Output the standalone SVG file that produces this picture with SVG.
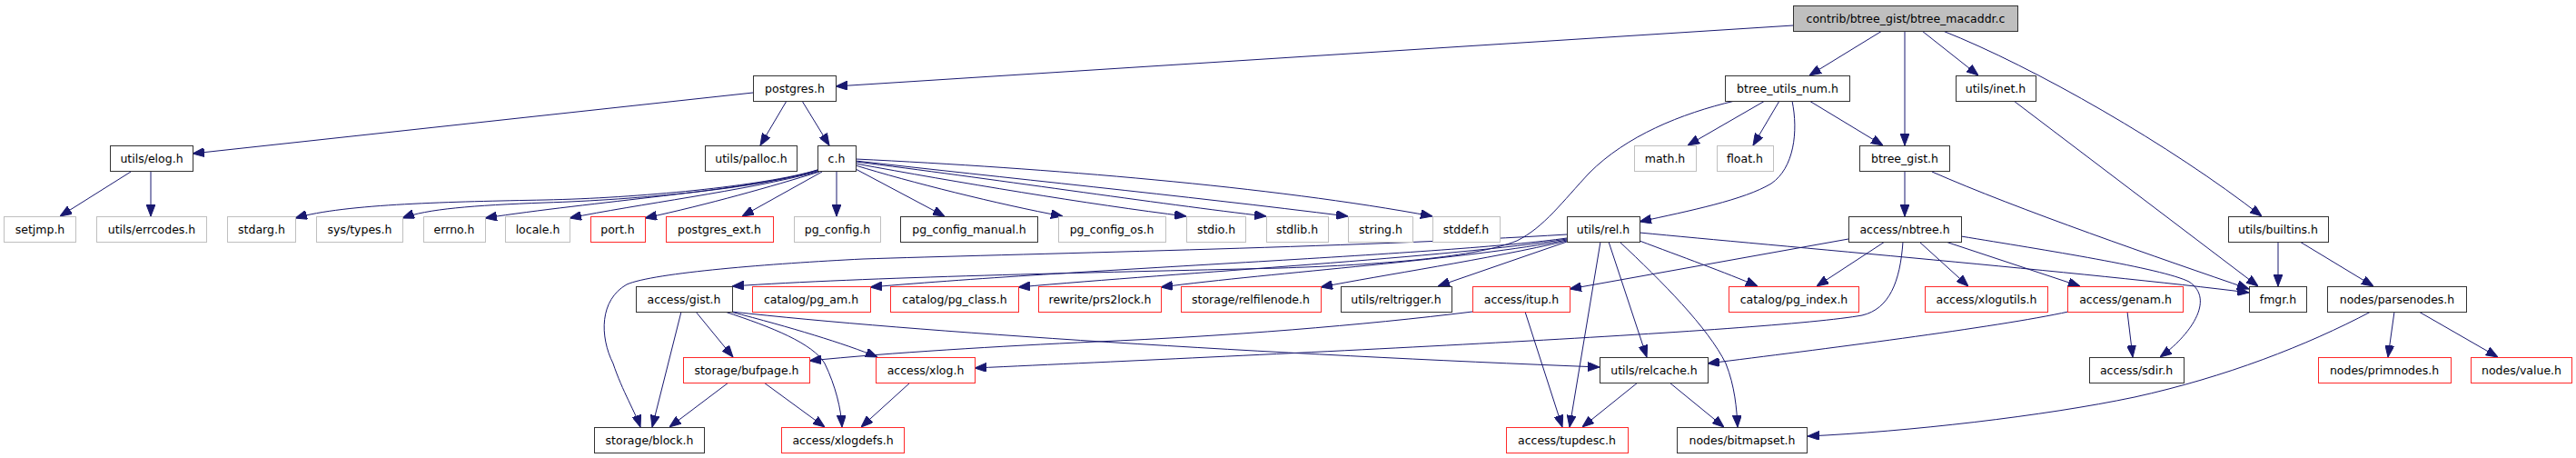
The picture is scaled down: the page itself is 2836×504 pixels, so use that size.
<svg xmlns="http://www.w3.org/2000/svg" width="2836" height="504" viewBox="0 0 2836 504">
<style>
.n rect{fill:#fff;stroke:#333;stroke-width:1}
.n.red rect{stroke:#ff2a2a}
.n.gray rect{stroke:#bfbfbf}
.n.root rect{fill:#bfbfbf}
.n text{font-family:"DejaVu Sans","Liberation Sans",sans-serif;font-size:12.5px;text-anchor:middle;fill:#000}
#edges path{fill:none;stroke:#191970;stroke-width:1;marker-end:url(#arr)}
</style>
<defs>
<marker id="arr" viewBox="0 0 13 10" refX="13" refY="5" markerWidth="13" markerHeight="10" markerUnits="userSpaceOnUse" orient="auto">
<path d="M0,0 L13,5 L0,10 z" fill="#191970" stroke="#191970" stroke-width="1"/>
</marker>
</defs>
<rect width="2836" height="504" fill="#fff"/>
<g id="edges">
<path d="M1974,28 L920,95"/>
<path d="M2072,34 L1992,83"/>
<path d="M2097,34 L2097,160"/>
<path d="M2116,34 L2178,83"/>
<path d="M2139,34 C2240,74 2390,160 2490,238"/>
<path d="M829,102 L212,169"/>
<path d="M866,111 L837,160"/>
<path d="M883,111 L913,160"/>
<path d="M144,189 L66,238"/>
<path d="M166,189 L166,238"/>
<path d="M900,187 C840,205 700,218 600,220 C500,222 380,224 325,240"/>
<path d="M900,187 C840,207 700,220 600,223 C520,226 470,230 443,240"/>
<path d="M900,188 C820,210 650,222 534,240"/>
<path d="M900,189 C820,210 700,225 627,240"/>
<path d="M902,189 C850,205 780,225 710,240"/>
<path d="M905,189 L817,238"/>
<path d="M921,189 L921,238"/>
<path d="M942,186 L1040,238"/>
<path d="M942,182 C1000,200 1100,225 1170,238"/>
<path d="M942,180 C1050,200 1200,225 1306,238"/>
<path d="M942,178 C1080,195 1280,225 1394,238"/>
<path d="M942,177 C1100,195 1300,215 1484,238"/>
<path d="M942,175 C1150,185 1400,205 1577,238"/>
<path d="M1943,111 L1858,160"/>
<path d="M1959,111 L1930,160"/>
<path d="M1992,111 L2073,160"/>
<path d="M1973,111 C1980,145 1975,185 1950,202 C1920,220 1860,232 1805,244"/>
<path d="M1910,111 C1850,125 1790,150 1750,190 C1720,222 1700,250 1670,265 C1620,285 1500,292 1410,295 C1200,300 950,305 806,315"/>
<path d="M2097,189 L2097,238"/>
<path d="M2127,189 C2220,230 2380,285 2476,318"/>
<path d="M2217,111 L2486,315"/>
<path d="M1725,258 C1500,272 1100,280 950,285 C850,290 720,300 690,313 C660,330 660,370 675,400 C685,430 700,455 705,470"/>
<path d="M1725,262 C1600,280 1200,295 958,316"/>
<path d="M1725,263 C1600,283 1300,300 1121,316"/>
<path d="M1725,264 C1620,285 1400,300 1278,316"/>
<path d="M1725,265 C1640,285 1520,303 1454,316"/>
<path d="M1725,266 L1583,315"/>
<path d="M1762,266 L1728,470"/>
<path d="M1771,266 L1813,393"/>
<path d="M1783,266 C1830,310 1880,360 1900,400 C1910,425 1912,450 1913,470"/>
<path d="M1805,265 C1850,282 1900,300 1935,315"/>
<path d="M1805,256 C1950,270 2300,300 2476,322"/>
<path d="M2035,263 L1728,318"/>
<path d="M2075,266 L2000,315"/>
<path d="M2113,266 L2167,315"/>
<path d="M2142,266 L2290,315"/>
<path d="M2159,260 C2250,275 2380,295 2410,310 C2440,330 2410,370 2378,393"/>
<path d="M2095,266 C2092,310 2080,340 2050,347 C1950,365 1400,390 1073,405"/>
<path d="M2508,266 L2508,315"/>
<path d="M2532,266 L2613,315"/>
<path d="M750,343 L718,470"/>
<path d="M766,343 L807,393"/>
<path d="M798,343 C850,360 895,378 908,400 C920,425 926,450 927,470"/>
<path d="M804,343 C870,360 930,378 966,393"/>
<path d="M806,343 C1000,365 1400,390 1761,404"/>
<path d="M1621,343 C1500,358 1350,370 1207,376 C1100,381 980,388 891,397"/>
<path d="M1679,343 L1720,470"/>
<path d="M2277,343 C2200,360 2000,385 1880,400"/>
<path d="M2342,343 L2348,393"/>
<path d="M2610,343 C2540,380 2450,415 2350,437 C2250,458 2100,475 1990,480"/>
<path d="M2636,343 L2629,393"/>
<path d="M2663,343 L2750,393"/>
<path d="M802,421 L737,470"/>
<path d="M841,421 L908,470"/>
<path d="M1002,421 L948,470"/>
<path d="M1803,421 L1742,470"/>
<path d="M1838,421 L1898,470"/>
</g>
<g id="node-root" class="n root"><rect x="1974.5" y="6.5" width="247" height="28"/><text x="2098" y="24.5">contrib/btree_gist/btree_macaddr.c</text></g>
<g id="node-postgres" class="n"><rect x="829.5" y="83.5" width="91" height="28"/><text x="875" y="101.5">postgres.h</text></g>
<g id="node-btree_utils_num" class="n"><rect x="1899.5" y="83.5" width="137" height="28"/><text x="1968" y="101.5">btree_utils_num.h</text></g>
<g id="node-utils_inet" class="n"><rect x="2153.5" y="83.5" width="88" height="28"/><text x="2197" y="101.5">utils/inet.h</text></g>
<g id="node-utils_elog" class="n"><rect x="121.5" y="160.5" width="91" height="28"/><text x="167" y="178.5">utils/elog.h</text></g>
<g id="node-utils_palloc" class="n"><rect x="776.5" y="160.5" width="101" height="28"/><text x="827" y="178.5">utils/palloc.h</text></g>
<g id="node-c" class="n"><rect x="900.5" y="160.5" width="42" height="28"/><text x="921" y="178.5">c.h</text></g>
<g id="node-math" class="n gray"><rect x="1799.5" y="160.5" width="68" height="28"/><text x="1833" y="178.5">math.h</text></g>
<g id="node-float" class="n gray"><rect x="1890.5" y="160.5" width="62" height="28"/><text x="1921" y="178.5">float.h</text></g>
<g id="node-btree_gist" class="n"><rect x="2047.5" y="160.5" width="99" height="28"/><text x="2097" y="178.5">btree_gist.h</text></g>
<g id="node-setjmp" class="n gray"><rect x="4.5" y="238.5" width="79" height="28"/><text x="44" y="256.5">setjmp.h</text></g>
<g id="node-utils_errcodes" class="n gray"><rect x="106.5" y="238.5" width="121" height="28"/><text x="167" y="256.5">utils/errcodes.h</text></g>
<g id="node-stdarg" class="n gray"><rect x="250.5" y="238.5" width="75" height="28"/><text x="288" y="256.5">stdarg.h</text></g>
<g id="node-sys_types" class="n gray"><rect x="348.5" y="238.5" width="95" height="28"/><text x="396" y="256.5">sys/types.h</text></g>
<g id="node-errno" class="n gray"><rect x="466.5" y="238.5" width="68" height="28"/><text x="500" y="256.5">errno.h</text></g>
<g id="node-locale" class="n gray"><rect x="556.5" y="238.5" width="71" height="28"/><text x="592" y="256.5">locale.h</text></g>
<g id="node-port" class="n red"><rect x="650.5" y="238.5" width="60" height="28"/><text x="680" y="256.5">port.h</text></g>
<g id="node-postgres_ext" class="n red"><rect x="733.5" y="238.5" width="118" height="28"/><text x="792" y="256.5">postgres_ext.h</text></g>
<g id="node-pg_config" class="n gray"><rect x="874.5" y="238.5" width="95" height="28"/><text x="922" y="256.5">pg_config.h</text></g>
<g id="node-pg_config_manual" class="n"><rect x="991.5" y="238.5" width="151" height="28"/><text x="1067" y="256.5">pg_config_manual.h</text></g>
<g id="node-pg_config_os" class="n gray"><rect x="1165.5" y="238.5" width="118" height="28"/><text x="1224" y="256.5">pg_config_os.h</text></g>
<g id="node-stdio" class="n gray"><rect x="1306.5" y="238.5" width="65" height="28"/><text x="1339" y="256.5">stdio.h</text></g>
<g id="node-stdlib" class="n gray"><rect x="1394.5" y="238.5" width="68" height="28"/><text x="1428" y="256.5">stdlib.h</text></g>
<g id="node-string" class="n gray"><rect x="1484.5" y="238.5" width="71" height="28"/><text x="1520" y="256.5">string.h</text></g>
<g id="node-stddef" class="n gray"><rect x="1577.5" y="238.5" width="74" height="28"/><text x="1614" y="256.5">stddef.h</text></g>
<g id="node-utils_rel" class="n"><rect x="1725.5" y="238.5" width="80" height="28"/><text x="1765" y="256.5">utils/rel.h</text></g>
<g id="node-access_nbtree" class="n"><rect x="2035.5" y="238.5" width="124" height="28"/><text x="2097" y="256.5">access/nbtree.h</text></g>
<g id="node-utils_builtins" class="n"><rect x="2453.5" y="238.5" width="110" height="28"/><text x="2508" y="256.5">utils/builtins.h</text></g>
<g id="node-access_gist" class="n"><rect x="700.5" y="315.5" width="106" height="28"/><text x="753" y="333.5">access/gist.h</text></g>
<g id="node-catalog_pg_am" class="n red"><rect x="828.5" y="315.5" width="130" height="28"/><text x="893" y="333.5">catalog/pg_am.h</text></g>
<g id="node-catalog_pg_class" class="n red"><rect x="980.5" y="315.5" width="141" height="28"/><text x="1051" y="333.5">catalog/pg_class.h</text></g>
<g id="node-rewrite_prs2lock" class="n red"><rect x="1143.5" y="315.5" width="135" height="28"/><text x="1211" y="333.5">rewrite/prs2lock.h</text></g>
<g id="node-storage_relfilenode" class="n red"><rect x="1300.5" y="315.5" width="154" height="28"/><text x="1377" y="333.5">storage/relfilenode.h</text></g>
<g id="node-utils_reltrigger" class="n"><rect x="1476.5" y="315.5" width="122" height="28"/><text x="1537" y="333.5">utils/reltrigger.h</text></g>
<g id="node-access_itup" class="n red"><rect x="1621.5" y="315.5" width="107" height="28"/><text x="1675" y="333.5">access/itup.h</text></g>
<g id="node-catalog_pg_index" class="n red"><rect x="1903.5" y="315.5" width="143" height="28"/><text x="1975" y="333.5">catalog/pg_index.h</text></g>
<g id="node-access_xlogutils" class="n red"><rect x="2119.5" y="315.5" width="135" height="28"/><text x="2187" y="333.5">access/xlogutils.h</text></g>
<g id="node-access_genam" class="n red"><rect x="2276.5" y="315.5" width="127" height="28"/><text x="2340" y="333.5">access/genam.h</text></g>
<g id="node-fmgr" class="n"><rect x="2476.5" y="315.5" width="63" height="28"/><text x="2508" y="333.5">fmgr.h</text></g>
<g id="node-nodes_parsenodes" class="n"><rect x="2562.5" y="315.5" width="153" height="28"/><text x="2639" y="333.5">nodes/parsenodes.h</text></g>
<g id="node-storage_bufpage" class="n red"><rect x="752.5" y="393.5" width="139" height="28"/><text x="822" y="411.5">storage/bufpage.h</text></g>
<g id="node-access_xlog" class="n red"><rect x="964.5" y="393.5" width="109" height="28"/><text x="1019" y="411.5">access/xlog.h</text></g>
<g id="node-utils_relcache" class="n"><rect x="1761.5" y="393.5" width="119" height="28"/><text x="1821" y="411.5">utils/relcache.h</text></g>
<g id="node-access_sdir" class="n"><rect x="2300.5" y="393.5" width="104" height="28"/><text x="2352" y="411.5">access/sdir.h</text></g>
<g id="node-nodes_primnodes" class="n red"><rect x="2552.5" y="393.5" width="146" height="28"/><text x="2625" y="411.5">nodes/primnodes.h</text></g>
<g id="node-nodes_value" class="n red"><rect x="2720.5" y="393.5" width="111" height="28"/><text x="2776" y="411.5">nodes/value.h</text></g>
<g id="node-storage_block" class="n"><rect x="654.5" y="470.5" width="121" height="28"/><text x="715" y="488.5">storage/block.h</text></g>
<g id="node-access_xlogdefs" class="n red"><rect x="860.5" y="470.5" width="135" height="28"/><text x="928" y="488.5">access/xlogdefs.h</text></g>
<g id="node-access_tupdesc" class="n red"><rect x="1658.5" y="470.5" width="134" height="28"/><text x="1725" y="488.5">access/tupdesc.h</text></g>
<g id="node-nodes_bitmapset" class="n"><rect x="1846.5" y="470.5" width="143" height="28"/><text x="1918" y="488.5">nodes/bitmapset.h</text></g>
</svg>
